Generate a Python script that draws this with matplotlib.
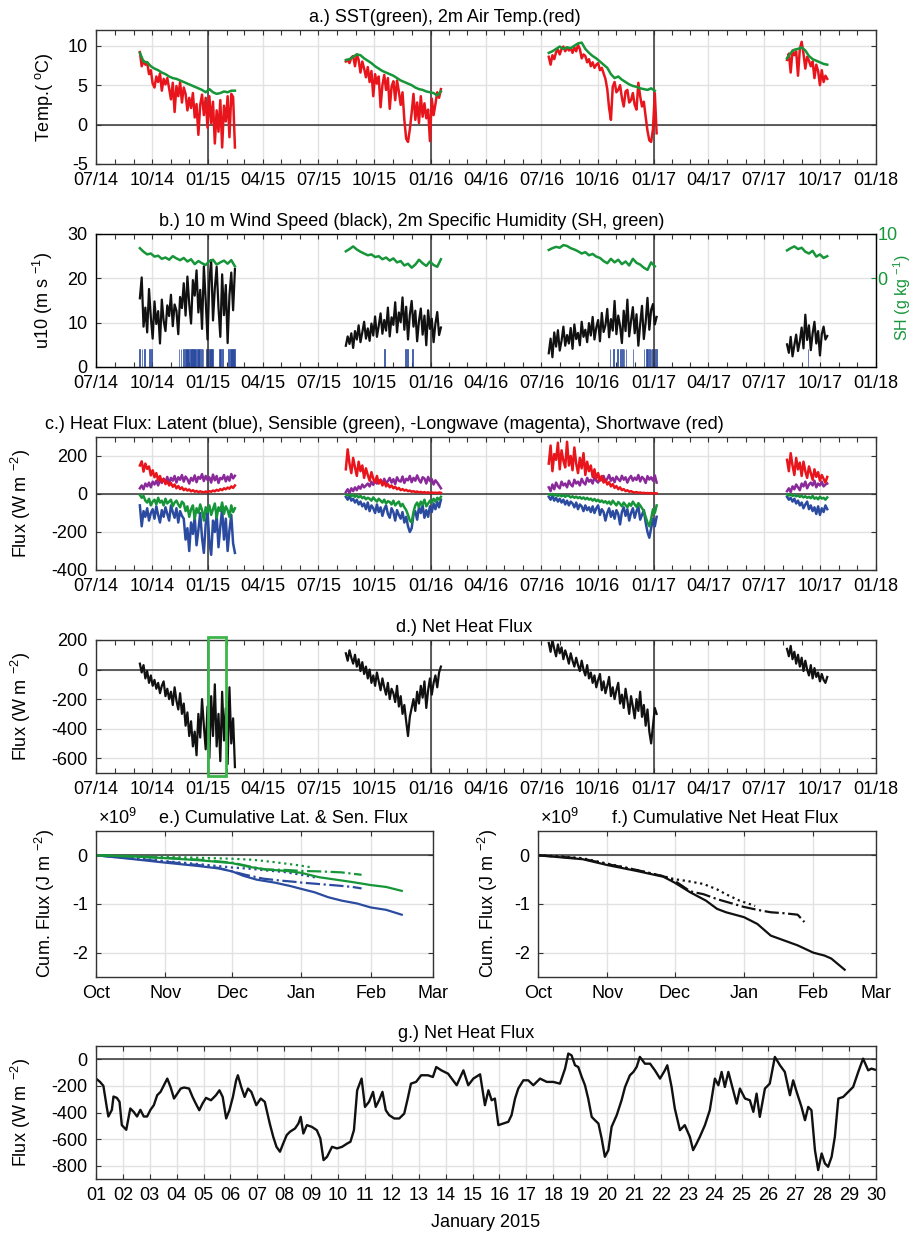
import matplotlib
matplotlib.use('Agg')
import matplotlib.pyplot as plt
import matplotlib.dates as mdates
import numpy as np
import pandas as pd

plt.rcParams['font.family'] = ['Liberation Sans', 'DejaVu Sans']
plt.rcParams['font.size'] = 13
plt.rcParams['mathtext.fontset'] = 'custom'
plt.rcParams['mathtext.rm'] = 'Liberation Sans'
plt.rcParams['axes.unicode_minus'] = False

# Fechas de inicio de cada despliegue
inicio = ['2014-09-11', '2015-08-15', '2016-07-13', '2017-08-08']

# a.) temperatura del aire (cada 3 dias) y SST (cada 6 dias)
tair = [
    [9.2, 7.4, 8.1, 7.6, 7.9, 6.4, 6.9, 5.2, 4.7, 6.1, 5.4, 6.5, 4.3, 5.8, 5.1, 5.9, 4.6, 3.2, 5.3, 1.6,
     4.9, 3.6, 5.4, 2.8, 4.7, 3.9, 1.8, 3.4, 2.1, 4.0, 0.9, 2.6, -1.3, 2.5, 3.8, 1.2, 3.4, -0.4, 3.6, 0.2,
     2.9, -2.4, 1.8, -0.9, 3.1, -2.9, 2.4, 0.4, 3.6, -1.6, 3.9, 3.5, -2.9],
    [8.0, 8.2, 7.8, 8.5, 8.7, 7.4, 8.9, 8.2, 6.6, 8.0, 7.1, 6.0, 7.3, 5.4, 6.8, 3.6, 6.4, 5.2, 6.1, 2.2,
     5.0, 6.3, 4.4, 5.9, 2.0, 4.8, 5.5, 3.1, 5.6, 4.2, 2.5, 4.1, 0.6, -1.8, -2.2, -0.6, 1.5, 3.9, 0.6, 2.8,
     0.2, 3.6, 1.0, 2.7, 0.8, 1.9, -2.1, 3.3, 1.2, 2.6, 4.1, 3.4, 4.5],
    [8.6, 7.6, 8.8, 8.3, 9.2, 9.5, 8.9, 9.6, 9.9, 9.3, 9.8, 9.4, 9.7, 9.1, 9.8, 9.3, 10.1, 9.6, 8.4, 8.9,
     8.7, 7.9, 8.3, 7.4, 7.9, 7.2, 7.6, 7.8, 6.9, 7.2, 6.5, 5.8, 4.5, 2.1, 0.6, 4.8, 5.4, 4.1, 4.4, 5.0,
     3.4, 2.3, 4.2, 4.4, 2.8, 3.1, 4.0, 2.5, 1.9, 5.3, 3.6, 2.3, 2.9, 1.0, -0.8, -2.0, -2.2, -0.6, 4.0, -1.1],
    [8.2, 9.0, 6.6, 9.4, 8.8, 9.3, 6.2, 9.6, 10.5, 9.0, 7.1, 8.6, 8.1, 7.4, 8.0, 5.9, 7.6, 6.8, 5.0, 6.9,
     5.4, 6.2, 5.8],
]
sst = [
    [9.1, 8.0, 7.9, 7.4, 7.1, 6.9, 6.6, 6.4, 6.1, 5.9, 5.8, 5.6, 5.4, 5.2, 5.0, 4.8, 4.6, 4.4, 4.1, 4.5,
     4.1, 3.9, 4.0, 4.2, 4.1, 4.3, 4.3],
    [8.2, 8.3, 8.6, 8.9, 8.8, 8.4, 8.1, 7.8, 7.4, 7.1, 6.8, 6.6, 6.4, 6.2, 5.9, 5.6, 5.4, 5.2, 5.0, 4.7,
     4.5, 4.4, 4.2, 4.1, 4.0, 3.7, 4.2],
    [9.1, 9.3, 9.6, 9.9, 9.6, 9.8, 9.7, 10.0, 10.3, 10.4, 9.6, 9.1, 8.7, 8.4, 8.0, 7.6, 7.2, 6.4, 5.9, 6.1,
     5.7, 5.4, 5.1, 4.9, 4.8, 4.6, 4.5, 4.4, 4.6, 4.3],
    [8.4, 9.1, 9.5, 9.6, 9.8, 9.4, 8.7, 8.3, 8.1, 7.9, 7.7, 7.6],
]

# b.) viento a 10 m (cada 3 dias) y humedad especifica (cada 6 dias)
u10 = [
    [15.5, 20.2, 9.1, 13.4, 7.8, 17.6, 11.2, 6.4, 14.8, 9.7, 12.6, 5.3, 15.2, 10.4, 8.1, 13.9, 11.5, 16.3,
     9.2, 14.1, 12.7, 7.4, 15.8, 13.3, 18.9, 11.6, 20.4, 14.2, 9.8, 19.6, 16.1, 21.8, 12.3, 17.4, 8.6, 22.7,
     15.1, 6.2, 19.3, 24.1, 10.5, 17.8, 22.6, 13.4, 6.8, 20.9, 11.7, 18.5, 5.4, 16.2, 21.3, 12.8, 22.1],
    [4.8, 6.9, 5.2, 7.6, 4.3, 8.1, 6.2, 9.4, 5.6, 7.8, 10.2, 6.4, 8.7, 5.9, 9.8, 7.1, 11.4, 6.8, 9.3, 12.1,
     7.5, 10.6, 8.2, 13.4, 6.9, 11.2, 9.5, 14.6, 7.8, 12.3, 10.1, 15.7, 8.4, 13.6, 6.2, 11.8, 14.9, 9.1,
     12.7, 5.8, 10.4, 13.2, 7.3, 11.6, 4.9, 12.8, 8.6, 10.9, 5.6, 9.8, 12.4, 7.2, 8.9],
    [3.1, 6.4, 2.2, 7.8, 4.6, 8.3, 3.7, 5.9, 9.1, 4.8, 7.2, 5.3, 8.8, 4.1, 9.6, 6.3, 7.7, 4.9, 10.2, 6.8,
     8.4, 5.6, 9.9, 7.1, 11.3, 6.2, 8.9, 10.6, 5.8, 12.2, 7.9, 9.4, 13.1, 6.7, 10.8, 8.2, 14.9, 7.4, 11.6,
     9.3, 5.4, 12.7, 8.1, 15.2, 6.9, 10.4, 13.5, 7.6, 11.9, 4.8, 9.7, 13.8, 6.3, 10.1, 15.6, 8.4, 12.9,
     14.2, 9.6, 11.3],
    [5.1, 3.2, 6.8, 2.4, 4.9, 7.3, 3.6, 5.8, 8.9, 4.2, 11.8, 6.1, 9.4, 3.8, 7.6, 10.2, 5.3, 8.1, 2.6, 7.4,
     9.1, 6.2, 7.0],
]
sh = [
    [6.8, 6.0, 5.4, 5.6, 4.9, 5.1, 4.4, 4.7, 4.2, 5.0, 4.5, 4.1, 4.6, 3.8, 4.3, 3.2, 3.9, 3.4, 3.0, 3.9,
     4.2, 3.1, 3.6, 4.0, 3.3, 4.1, 2.7],
    [6.1, 6.6, 7.2, 6.5, 6.0, 5.6, 5.2, 5.4, 4.8, 5.0, 4.3, 4.7, 4.0, 4.5, 3.6, 3.9, 2.9, 3.3, 2.4, 3.1,
     4.2, 3.4, 2.8, 3.8, 3.0, 2.6, 4.3],
    [6.4, 6.8, 7.1, 6.9, 7.5, 7.3, 6.8, 6.5, 6.1, 5.6, 5.9, 5.2, 5.5, 4.9, 4.6, 3.9, 3.4, 4.4, 3.6, 4.2,
     3.2, 3.8, 2.9, 4.4, 3.5, 3.1, 2.4, 1.9, 3.6, 2.7],
    [6.3, 6.8, 7.2, 6.6, 6.9, 6.0, 5.6, 6.2, 4.9, 5.4, 4.6, 5.0],
]
# eventos (barras azules en b.)
ev_ini = ['2014-09-10', '2014-09-14', '2014-09-18', '2014-09-26', '2014-09-30', '2014-11-14', '2014-11-17',
          '2014-11-21', '2014-11-24', '2014-12-02', '2014-12-06', '2014-12-13', '2014-12-20', '2014-12-23',
          '2014-12-29', '2015-01-02', '2015-01-06', '2015-01-19', '2015-01-23', '2015-02-02', '2015-02-06',
          '2015-02-11', '2015-10-17', '2015-11-20', '2015-11-23', '2015-12-02', '2016-10-21', '2016-10-27',
          '2016-11-02', '2016-11-07', '2016-11-10', '2016-11-13', '2016-11-16', '2016-11-28', '2016-12-16',
          '2016-12-20', '2016-12-22', '2016-12-25', '2016-12-27', '2016-12-30', '2017-01-02', '2017-01-05',
          '2017-09-11']
ev_fin = ['2014-09-11', '2014-09-15', '2014-09-19', '2014-09-27', '2014-10-01', '2014-11-15', '2014-11-18',
          '2014-11-23', '2014-12-01', '2014-12-05', '2014-12-12', '2014-12-19', '2014-12-22', '2014-12-24',
          '2015-01-01', '2015-01-05', '2015-01-09', '2015-01-22', '2015-01-26', '2015-02-05', '2015-02-10',
          '2015-02-14', '2015-10-18', '2015-11-21', '2015-11-25', '2015-12-03', '2016-10-22', '2016-10-28',
          '2016-11-03', '2016-11-08', '2016-11-11', '2016-11-14', '2016-11-17', '2016-11-29', '2016-12-17',
          '2016-12-21', '2016-12-23', '2016-12-26', '2016-12-28', '2016-12-31', '2017-01-03', '2017-01-06',
          '2017-09-12']

# c.) flujos de calor (cada 3 dias)
latente = [
    [-60, -170, -90, -120, -75, -140, -100, -80, -130, -65, -110, -150, -85, -120, -70, -105, -140, -60, -95,
     -125, -75, -150, -90, -115, -130, -240, -180, -300, -150, -210, -120, -270, -190, -100, -230, -310, -160,
     -90, -250, -320, -140, -200, -110, -280, -170, -80, -240, -130, -300, -190, -110, -260, -310],
    [-15, -30, -10, -35, -25, -45, -30, -55, -40, -65, -50, -80, -45, -90, -60, -75, -100, -55, -95, -70,
     -115, -80, -60, -105, -125, -75, -95, -140, -85, -110, -130, -95, -150, -120, -170, -200, -180, -110,
     -90, -135, -70, -100, -60, -125, -85, -120, -65, -95, -50, -80, -40, -70, -30],
    [-15, -30, -10, -35, -20, -40, -25, -45, -30, -55, -35, -60, -40, -50, -70, -45, -80, -55, -65, -90,
     -60, -85, -70, -95, -65, -100, -75, -60, -110, -80, -95, -140, -100, -75, -120, -90, -130, -85, -105,
     -160, -95, -70, -115, -80, -140, -100, -75, -125, -90, -65, -135, -110, -85, -150, -200, -230, -180,
     -130, -170, -120],
    [-15, -30, -20, -40, -25, -50, -35, -60, -45, -75, -55, -40, -80, -60, -90, -70, -105, -65, -110, -75,
     -95, -60, -80],
]
sensible = [
    [-5, -20, -10, -35, -45, -25, -60, -40, -30, -55, -20, -45, -35, -60, -25, -50, -40, -30, -65, -45, -35,
     -55, -70, -40, -50, -90, -65, -120, -80, -60, -130, -75, -100, -55, -85, -140, -70, -95, -60, -110, -80,
     -50, -125, -70, -90, -45, -105, -65, -85, -120, -60, -95, -75],
    [-2, -8, 0, -12, -5, -15, -8, -18, -10, -22, -15, -28, -20, -25, -35, -18, -30, -40, -25, -35, -45, -30,
     -50, -38, -42, -55, -35, -60, -48, -40, -65, -52, -70, -85, -110, -140, -150, -95, -60, -45, -70, -40,
     -55, -30, -65, -50, -35, -45, -25, -40, -20, -30, -15],
    [-2, -5, 0, -8, -3, -10, -5, -12, -6, -15, -8, -10, -18, -12, -20, -14, -22, -16, -25, -18, -28, -20,
     -30, -24, -35, -26, -38, -30, -42, -34, -45, -38, -50, -40, -55, -35, -48, -60, -42, -52, -65, -45, -58,
     -70, -50, -62, -40, -55, -68, -48, -60, -75, -90, -120, -150, -170, -130, -80, -100, -60],
    [-3, -8, -2, -10, -5, -12, -8, -15, -10, -18, -12, -20, -15, -22, -10, -25, -18, -28, -14, -24, -20, -30,
     -18],
]
onda_larga = [
    [30, 45, 25, 55, 40, 60, 35, 65, 50, 70, 45, 75, 58, 80, 62, 90, 55, 85, 70, 95, 60, 88, 75, 100, 65, 92,
     78, 55, 85, 70, 98, 62, 90, 80, 105, 68, 95, 74, 88, 60, 102, 72, 95, 58, 85, 78, 100, 66, 92, 70, 105,
     82, 96],
    [10, 25, 5, 30, 15, 35, 20, 40, 28, 50, 35, 45, 55, 40, 65, 48, 70, 55, 62, 75, 50, 80, 58, 68, 85, 60,
     78, 52, 88, 70, 65, 92, 58, 80, 72, 95, 62, 85, 70, 98, 75, 60, 88, 82, 55, 90, 68, 78, 50, 72, 60, 45,
     30],
    [35, 15, 50, 25, 60, 40, 30, 65, 45, 55, 35, 70, 50, 40, 75, 55, 65, 45, 80, 60, 50, 85, 65, 75, 55, 90,
     70, 60, 88, 72, 95, 65, 80, 100, 70, 85, 62, 92, 78, 68, 96, 75, 88, 60, 82, 95, 70, 86, 74, 100, 66, 90,
     80, 58, 94, 76, 88, 70, 98, 60],
    [15, 30, 10, 40, 25, 50, 35, 20, 55, 40, 65, 30, 50, 60, 45, 70, 35, 55, 45, 65, 40, 50, 55],
]
onda_corta = [
    [150, 172, 118, 160, 132, 145, 98, 125, 88, 110, 72, 95, 64, 80, 52, 68, 45, 58, 38, 50, 30, 42, 26, 35,
     20, 28, 18, 24, 14, 20, 12, 16, 10, 14, 11, 9, 13, 10, 15, 12, 18, 14, 22, 17, 26, 20, 30, 25, 34, 28,
     40, 32, 45],
    [130, 235, 160, 110, 190, 140, 95, 170, 120, 150, 85, 135, 100, 70, 115, 80, 60, 95, 55, 75, 45, 65, 40,
     52, 35, 45, 30, 38, 25, 32, 20, 26, 18, 22, 15, 18, 12, 15, 10, 13, 8, 11, 7, 10, 6, 9, 5, 8, 6, 7, 5,
     8, 6],
    [160, 255, 120, 210, 180, 270, 130, 230, 175, 140, 275, 150, 200, 125, 245, 160, 110, 190, 135, 215, 100,
     170, 120, 150, 90, 130, 80, 110, 70, 95, 60, 75, 50, 62, 40, 52, 32, 42, 25, 35, 20, 26, 15, 20, 12, 15,
     10, 8, 10, 6, 8, 5, 6, 4, 5, 4, 5, 3, 4, 3],
    [180, 120, 215, 150, 100, 190, 130, 165, 95, 170, 120, 85, 145, 110, 75, 130, 90, 115, 70, 100, 80, 60,
     90],
]

# d.) flujo neto (cada 3 dias)
neto = [
    [40, -20, 30, -60, -10, -90, -40, -110, -70, -130, -90, -160, -110, -80, -180, -130, -200, -150, -240,
     -120, -210, -270, -160, -300, -230, -380, -290, -450, -350, -520, -420, -580, -300, -460, -200, -380,
     -540, -250, -600, -180, -450, -100, -520, -300, -620, -150, -480, -260, -640, -120, -500, -330, -660],
    [110, 60, 130, 80, 40, 100, 20, 70, -10, 50, -30, 20, -60, 0, -90, -40, -110, -20, -80, -140, -60, -120,
     -170, -90, -200, -130, -160, -220, -110, -250, -180, -300, -240, -350, -450, -320, -260, -200, -280,
     -150, -230, -110, -190, -80, -260, -140, -60, -170, -90, -40, -120, -20, 20],
    [180, 120, 200, 140, 90, 170, 110, 150, 70, 130, 90, 40, 110, 60, 20, 80, 30, -10, 60, 0, -40, 30, -60,
     -20, -90, -40, -120, -70, -30, -140, -80, -160, -110, -50, -180, -120, -200, -140, -90, -230, -170,
     -260, -130, -210, -300, -180, -250, -330, -200, -280, -150, -320, -240, -380, -270, -420, -500, -380,
     -260, -300],
    [140, 90, 160, 70, 120, 40, 100, 20, 80, -10, 60, 0, -40, 30, -60, 10, -50, -20, -80, -30, -70, -90, -50],
]
caja_ini, caja_fin = '2015-01-01', '2015-01-31'

# e.) y f.) flujos acumulados (dias desde 1 oct, en 1e9 J m-2)
lat14_d = [0, 15, 31, 46, 55, 61, 66, 72, 80, 87, 92, 98, 104, 110, 117, 123, 130, 137]
lat14_v = [0, -0.07, -0.15, -0.22, -0.27, -0.33, -0.42, -0.5, -0.56, -0.63, -0.69, -0.76, -0.86, -0.93,
           -0.99, -1.07, -1.12, -1.22]
lat15_d = [0, 15, 31, 46, 55, 61, 67, 75, 83, 88, 92, 100, 108, 115, 119]
lat15_v = [0, -0.06, -0.13, -0.2, -0.26, -0.33, -0.4, -0.48, -0.52, -0.54, -0.56, -0.59, -0.62, -0.65, -0.68]
lat16_d = [0, 15, 31, 46, 61, 70, 76, 84, 92, 99]
lat16_v = [0, -0.04, -0.12, -0.18, -0.25, -0.28, -0.31, -0.34, -0.4, -0.46]
sen14_d = [0, 15, 32, 46, 61, 69, 76, 85, 92, 100, 106, 115, 123, 130, 137]
sen14_v = [0, -0.02, -0.06, -0.1, -0.16, -0.24, -0.29, -0.32, -0.36, -0.45, -0.49, -0.55, -0.61, -0.65, -0.73]
sen15_d = [0, 15, 31, 46, 61, 70, 76, 85, 92, 100, 110, 119]
sen15_v = [0, -0.02, -0.05, -0.09, -0.15, -0.24, -0.29, -0.3, -0.32, -0.33, -0.35, -0.4]
sen16_d = [0, 15, 31, 46, 61, 70, 80, 90, 97]
sen16_v = [0, -0.01, -0.03, -0.05, -0.07, -0.09, -0.14, -0.2, -0.25]
net14_d = [0, 10, 20, 31, 44, 56, 61, 68, 75, 80, 84, 92, 98, 104, 110, 116, 123, 128, 131, 137]
net14_v = [0, -0.04, -0.08, -0.2, -0.32, -0.44, -0.56, -0.76, -0.93, -1.1, -1.17, -1.27, -1.41, -1.65,
           -1.75, -1.85, -2.0, -2.06, -2.12, -2.35]
net15_d = [0, 10, 20, 31, 44, 56, 61, 68, 74, 80, 86, 92, 98, 104, 110, 116, 119]
net15_v = [0, -0.03, -0.07, -0.18, -0.3, -0.43, -0.52, -0.74, -0.8, -0.9, -0.98, -1.06, -1.12, -1.17,
           -1.19, -1.22, -1.37]
net16_d = [0, 10, 20, 31, 44, 56, 61, 67, 74, 80, 84, 90, 97]
net16_v = [0, -0.02, -0.06, -0.17, -0.3, -0.43, -0.49, -0.53, -0.59, -0.7, -0.8, -0.93, -1.04]

# g.) flujo neto enero 2015 (dia del mes)
g_dia = [1.0, 1.15, 1.275, 1.4, 1.46, 1.59, 1.65, 1.775, 1.875, 1.96, 2.125, 2.275, 2.4, 2.525, 2.65, 2.775,
         2.9, 3.025, 3.15, 3.275, 3.4, 3.525, 3.65, 3.775, 3.9, 4.025, 4.15, 4.275, 4.46, 4.59, 4.71, 4.84,
         4.96, 5.09, 5.275, 5.46, 5.59, 5.71, 5.84, 5.96, 6.09, 6.21, 6.275, 6.4, 6.525, 6.65, 6.775, 6.96,
         7.125, 7.275, 7.46, 7.59, 7.71, 7.84, 7.96, 8.09, 8.21, 8.4, 8.525, 8.61, 8.71, 8.84, 9.025, 9.21,
         9.34, 9.46, 9.59, 9.775, 9.96, 10.15, 10.34, 10.46, 10.59, 10.71, 10.875, 11.0, 11.15, 11.3, 11.4,
         11.525, 11.65, 11.775, 11.9, 12.09, 12.275, 12.46, 12.59, 12.71, 12.9, 13.09, 13.34, 13.525, 13.65,
         13.84, 14.09, 14.41, 14.66, 14.84, 15.03, 15.28, 15.46, 15.59, 15.71, 15.83, 15.96, 16.14, 16.33,
         16.45, 16.58, 16.7, 16.89, 17.07, 17.26, 17.51, 17.76, 18.0, 18.25, 18.44, 18.56, 18.68, 18.81,
         18.93, 19.06, 19.18, 19.3, 19.43, 19.55, 19.68, 19.8, 19.92, 20.05, 20.17, 20.36, 20.54, 20.67,
         20.85, 20.98, 21.1, 21.22, 21.41, 21.6, 21.78, 21.97, 22.15, 22.24, 22.4, 22.52, 22.71, 22.89,
         23.08, 23.2, 23.33, 23.45, 23.64, 23.82, 24.01, 24.14, 24.26, 24.38, 24.51, 24.69, 24.82, 24.94,
         25.13, 25.31, 25.44, 25.56, 25.68, 25.87, 26.05, 26.24, 26.43, 26.61, 26.8, 26.92, 27.05, 27.23,
         27.36, 27.48, 27.6, 27.73, 27.85, 27.98, 28.1, 28.22, 28.35, 28.47, 28.6, 28.78, 28.97, 29.15,
         29.34, 29.52, 29.71, 29.83, 29.96]
g_flujo = [-145, -170, -200, -360, -430, -380, -280, -290, -320, -495, -530, -370, -395, -430, -380, -430,
           -430, -380, -345, -270, -245, -195, -145, -210, -295, -258, -220, -212, -220, -283, -333, -383,
           -333, -290, -308, -270, -233, -283, -445, -383, -283, -158, -120, -208, -283, -220, -245, -345,
           -295, -320, -483, -583, -658, -695, -633, -570, -545, -520, -483, -433, -558, -495, -508, -533,
           -595, -758, -733, -658, -670, -658, -633, -620, -533, -233, -145, -358, -320, -245, -358,
           -308, -245, -383, -420, -445, -445, -408, -295, -183, -170, -120, -120, -133, -58,
           -83, -108, -195, -83, -195, -145, -113, -345, -233, -308, -295, -495, -483, -470,
           -420, -295, -220, -158, -158, -195, -145, -170, -170, -183, -70, 43, 30, -45,
           -58, -133, -195, -295, -433, -458, -483, -595, -733, -683, -508, -420, -308, -208,
           -120, -95, -58, 18, -33, -33, -83, -145, -83, -45, -208, -370, -533, -495,
           -583, -683, -633, -583, -495, -383, -145, -195, -95, -208, -95, -233, -333, -220,
           -295, -308, -395, -258, -433, -220, -183, 18, -45, -95, -270, -158, -245, -358,
           -458, -358, -383, -683, -833, -708, -783, -808, -733, -583, -295, -283, -245, -208,
           -95, 5, -83, -70, -78]

rojo = '#e8161c'
verde = '#169639'
azul = '#2b4ba0'
morado = '#8a2a9a'
negro = '#111111'
gris = '#333333'


def fechas(k, vals, paso):
    return pd.date_range(inicio[k], periods=len(vals), freq=f'{paso}D')


def dias(d):
    return pd.Timestamp('2014-10-01') + pd.to_timedelta(d, unit='D')


def estilo(ax):
    ax.tick_params(which='both', direction='in', top=True, right=True, length=3.5, width=0.8,
                   color=gris, pad=6, labelsize=13)
    ax.grid(True, which='major', color='#e2e2e2', lw=1.0)
    ax.set_axisbelow(True)
    for s in ax.spines.values():
        s.set_color(gris)
        s.set_linewidth(1.0)


def ejes_tiempo(ax):
    ax.set_xlim(pd.Timestamp('2014-07-01'), pd.Timestamp('2018-01-01'))
    ax.xaxis.set_major_locator(mdates.MonthLocator(bymonth=[1, 4, 7, 10]))
    ax.xaxis.set_minor_locator(mdates.MonthLocator())
    ax.xaxis.set_major_formatter(mdates.DateFormatter('%m/%y'))
    for a in ['2015-01-01', '2016-01-01', '2017-01-01']:
        ax.axvline(pd.Timestamp(a), color=gris, lw=1.1, zorder=1.5)
    estilo(ax)


fig = plt.figure(figsize=(9.13, 12.38), dpi=100)
W, H = 913, 1238


def caja(x0, y0, x1, y1):
    return fig.add_axes([x0 / W, 1 - y1 / H, (x1 - x0) / W, (y1 - y0) / H])


axa = caja(96, 30, 876, 164)
axb = caja(96, 234, 876, 367)
axc = caja(96, 437, 876, 570)
axd = caja(96, 640, 876, 773)
axe = caja(96, 831, 433, 977)
axf = caja(538, 831, 876, 977)
axg = caja(96, 1046, 876, 1179)

# a.)
for k in range(4):
    axa.plot(fechas(k, tair[k], 3), tair[k], color=rojo, lw=1.8)
    axa.plot(fechas(k, sst[k], 6), sst[k], color=verde, lw=1.8)
axa.axhline(0, color=gris, lw=1.1, zorder=1.5)
axa.set_ylim(-5, 12)
axa.set_yticks([-5, 0, 5, 10])
ejes_tiempo(axa)
axa.set_ylabel(r'Temp.( $\mathregular{^{o}}$C)')
axa.yaxis.set_label_coords(-0.053, 0.5)
axa.set_title('a.) SST(green), 2m Air Temp.(red)', x=0.447, pad=6, fontsize=13)

# b.)
ini = pd.to_datetime(ev_ini)
fin = pd.to_datetime(ev_fin)
axb.bar(ini, [4] * len(ini), width=np.array((fin - ini).days), align='edge', color=azul,
        edgecolor=azul, lw=0.5)
for k in range(4):
    axb.plot(fechas(k, u10[k], 3), u10[k], color=negro, lw=1.6)
axb.set_ylim(0, 30)
axb.set_yticks([0, 10, 20, 30])
ejes_tiempo(axb)
axb.set_ylabel(r'u10 (m s $\mathregular{^{-1}}$)')
axb.yaxis.set_label_coords(-0.053, 0.5)
axb.set_title('b.) 10 m Wind Speed (black), 2m Specific Humidity (SH, green)', x=0.405, pad=6, fontsize=13)
axb2 = axb.twinx()
for k in range(4):
    axb2.plot(fechas(k, sh[k], 6), sh[k], color=verde, lw=1.8)
axb2.set_ylim(-20, 10)
axb2.set_yticks([0, 10])
axb2.tick_params(axis='y', direction='in', length=3.5, colors=verde, labelsize=13, pad=1)
axb2.set_ylabel(r'SH (g kg $\mathregular{^{-1}}$)', color=verde, fontsize=11.5)
axb2.yaxis.set_label_coords(1.02, 0.52)

# c.)
for k in range(4):
    t = fechas(k, latente[k], 3)
    axc.plot(t, latente[k], color=azul, lw=1.8)
    axc.plot(t, sensible[k], color=verde, lw=1.8)
    axc.plot(t, onda_larga[k], color=morado, lw=1.8)
    axc.plot(t, onda_corta[k], color=rojo, lw=1.8)
axc.axhline(0, color=gris, lw=1.1, zorder=1.5)
axc.set_ylim(-400, 300)
axc.set_yticks([-400, -200, 0, 200])
ejes_tiempo(axc)
axc.set_ylabel(r'Flux (W m $\mathregular{^{-2}}$)')
axc.yaxis.set_label_coords(-0.081, 0.5)
axc.set_title('c.) Heat Flux: Latent (blue), Sensible (green), -Longwave (magenta), Shortwave (red)',
              x=0.37, pad=6, fontsize=13)

# d.)
for k in range(4):
    axd.plot(fechas(k, neto[k], 3), neto[k], color=negro, lw=1.6)
axd.axhline(0, color=gris, lw=1.1, zorder=1.5)
axd.set_ylim(-700, 200)
axd.set_yticks([-600, -400, -200, 0, 200])
ejes_tiempo(axd)
x0 = mdates.date2num(pd.Timestamp(caja_ini))
x1 = mdates.date2num(pd.Timestamp(caja_fin))
axd.add_patch(plt.Rectangle((x0, -0.02), x1 - x0, 1.04, transform=axd.get_xaxis_transform(),
                            fill=False, edgecolor='#3cb54a', lw=2, clip_on=False, zorder=5))
axd.set_ylabel(r'Flux (W m $\mathregular{^{-2}}$)')
axd.yaxis.set_label_coords(-0.081, 0.5)
axd.set_title('d.) Net Heat Flux', x=0.472, pad=6, fontsize=13)

# e.) y f.)
for ax in (axe, axf):
    ax.axhline(0, color=gris, lw=1.1, zorder=1.5)
    ax.set_xlim(pd.Timestamp('2014-10-01'), pd.Timestamp('2015-03-01'))
    ax.xaxis.set_major_locator(mdates.MonthLocator())
    ax.xaxis.set_major_formatter(mdates.DateFormatter('%b'))
    ax.set_ylim(-2.5, 0.5)
    ax.set_yticks([-2, -1, 0])
    estilo(ax)
    ax.set_ylabel(r'Cum. Flux (J m $\mathregular{^{-2}}$)')

axe.plot(dias(lat14_d), lat14_v, color=azul, lw=1.6)
axe.plot(dias(lat15_d), lat15_v, color=azul, lw=1.6, ls='-.')
axe.plot(dias(lat16_d), lat16_v, color=azul, lw=1.6, ls=':')
axe.plot(dias(sen14_d), sen14_v, color=verde, lw=1.6)
axe.plot(dias(sen15_d), sen15_v, color=verde, lw=1.6, ls='-.')
axe.plot(dias(sen16_d), sen16_v, color=verde, lw=1.6, ls=':')
axe.yaxis.set_label_coords(-0.116, 0.5)
axe.set_title('e.) Cumulative Lat. & Sen. Flux', x=0.555, pad=6, fontsize=13)
axe.text(0.005, 1.02, '×10$^{\\mathregular{9}}$', transform=axe.transAxes, ha='left', va='bottom', fontsize=13)

axf.plot(dias(net14_d), net14_v, color=negro, lw=1.6)
axf.plot(dias(net15_d), net15_v, color=negro, lw=1.6, ls='-.')
axf.plot(dias(net16_d), net16_v, color=negro, lw=1.6, ls=':')
axf.yaxis.set_label_coords(-0.112, 0.5)
axf.set_title('f.) Cumulative Net Heat Flux', x=0.553, pad=6, fontsize=13)
axf.text(0.006, 1.02, '×10$^{\\mathregular{9}}$', transform=axf.transAxes, ha='left', va='bottom', fontsize=13)

# g.)
axg.plot(g_dia, g_flujo, color=negro, lw=1.7)
axg.axhline(0, color=gris, lw=1.1, zorder=1.5)
axg.set_xlim(1, 30)
axg.set_xticks(range(1, 31))
axg.set_xticklabels([f'{d:02d}' for d in range(1, 31)])
axg.set_ylim(-900, 100)
axg.set_yticks([-800, -600, -400, -200, 0])
estilo(axg)
axg.set_ylabel(r'Flux (W m $\mathregular{^{-2}}$)')
axg.yaxis.set_label_coords(-0.081, 0.5)
axg.set_xlabel('January 2015', labelpad=7)
axg.set_title('g.) Net Heat Flux', x=0.474, pad=6, fontsize=13)

fig.savefig('out.png', dpi=100)
